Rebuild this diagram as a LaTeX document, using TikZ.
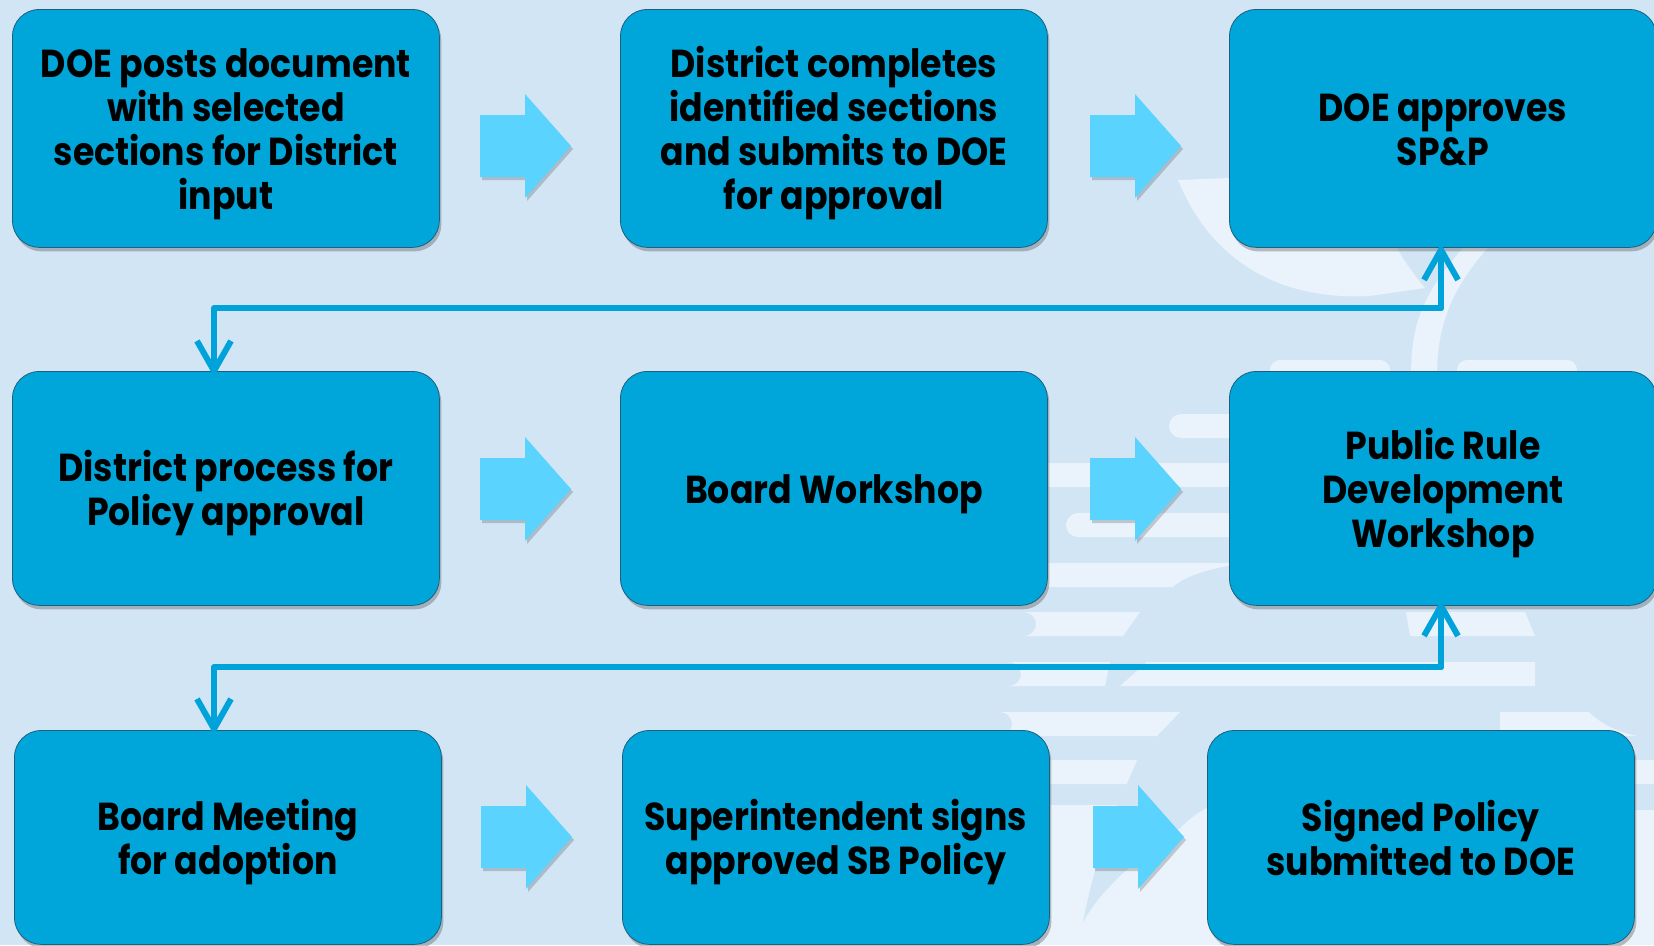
\documentclass[tikz,border=0pt]{standalone}
\usepackage{fontspec}
\newfontfamily\boxfont{Poppins}[FakeStretch=0.89]
\usetikzlibrary{arrows.meta,shadows}
\definecolor{bgc}{HTML}{D2E5F5}
\definecolor{wmc}{HTML}{EAF3FB}
\definecolor{boxc}{HTML}{00A6DA}
\definecolor{boxline}{HTML}{1D5F7E}
\definecolor{linec}{HTML}{00A3D9}
\definecolor{blockc}{HTML}{5AD3FE}
\tikzset{
  stepbox/.style={draw=boxline, line width=0.8pt, fill=boxc, rounded corners=27pt,
    minimum width=427pt, anchor=north west, inner sep=0pt,
    drop shadow={shadow xshift=2pt, shadow yshift=-4pt, opacity=0.35, fill=black!70}},
  boxtext/.style={align=center, font=\boxfont\bfseries\fontsize{39}{44}\selectfont, text=black, yshift=-5pt},
  link/.style={draw=linec, line width=6pt, line cap=round, line join=round,
    -{Straight Barb[length=30pt,width=34pt,line width=6pt]}},
  wm/.style={fill=wmc},
  blockarrow/.style={fill=blockc, drop shadow={shadow xshift=2pt, shadow yshift=-3pt, opacity=0.18, fill=black}}
}
\newcommand{\blockarr}[2]{%
  \path[blockarrow] (#1,#2-31) -- (#1+45,#2-31) -- (#1+45,#2-52) -- (#1+91,#2) -- (#1+45,#2+52) -- (#1+45,#2+31) -- (#1,#2+31) -- cycle;}
\newcommand{\ls}{\rule[-10pt]{0pt}{40pt}}
\begin{document}
\begin{tikzpicture}[x=1pt,y=-1pt]
\useasboundingbox (0,0) rectangle (1654,945);
\clip (0,0) rectangle (1654,945);
\fill[bgc] (0,0) rectangle (1654,945);
% watermark: crescent and ring
\fill[wm] (1178,180) .. controls (1215,270) and (1290,300) .. (1369,296) -- (1425,288) .. controls (1410,270) and (1400,255) .. (1393,240) -- (1229,178) -- cycle;
\fill[wm] (1470,240) .. controls (1425,290) and (1411,320) .. (1411,375) -- (1437,375) .. controls (1437,325) and (1452,285) .. (1495,240) -- cycle;
\fill[wm, rounded corners=10pt] (1270,360) rectangle (1390,385);
\fill[wm, rounded corners=10pt] (1457,360) rectangle (1577,385);
% watermark: bars
\fill[wm, rounded corners=12pt] (1169,414) rectangle (1260,438);
\fill[wm] (1040,463) rectangle (1240,487);
\fill[wm, rounded corners=12pt] (1066,513) rectangle (1260,537);
\fill[wm] (1040,563) -- (1235,563) -- (1235,565) .. controls (1205,569) and (1182,578) .. (1173,587) -- (1040,587) -- cycle;
\fill[wm] (1024,612) -- (1140,612) -- (1123,636) -- (1024,636) arc[start angle=90, end angle=270, radius=-12pt] -- cycle;
\fill[wm] (1406,612) -- (1525,612) -- (1535,636) -- (1410,636) -- cycle;
\fill[wm] (1009,662) -- (1110,662) -- (1105,686) -- (1009,686) arc[start angle=90, end angle=270, radius=-12pt] -- cycle;
\fill[wm] (1147,662) -- (1535,662) -- (1535,686) -- (1120,686) -- cycle;
\fill[wm] (1000,712) -- (1180,712) -- (1157,736) -- (1000,736) arc[start angle=90, end angle=270, radius=-12pt] -- cycle;
\fill[wm] (1500,712) rectangle (1654,736);
\fill[bgc] (1652,645) circle[radius=92pt];
\fill[wm] (1040,760) -- (1137,760) -- (1127,784) -- (1040,784) -- cycle;
\fill[wm] (1600,760) rectangle (1654,784);
\fill[wm] (1040,805) rectangle (1220,945);
\fill[wm] (1600,810) rectangle (1654,945);
\fill[bgc] (1083,922) .. controls (1095,860) and (1115,800) .. (1150,740) -- (1170,730) -- (1210,730) -- (1210,806) .. controls (1198,812) and (1188,820) .. (1180,828) .. controls (1140,855) and (1100,890) .. (1083,922) -- cycle;
% boxes
\node[stepbox, minimum height=238pt] (b1) at (12,9) {};
\node[stepbox, minimum height=238pt] (b2) at (620,9) {};
\node[stepbox, minimum height=238pt] (b3) at (1229,9) {};
\node[stepbox, minimum height=234pt] (b4) at (12,371) {};
\node[stepbox, minimum height=234pt] (b5) at (620,371) {};
\node[stepbox, minimum height=234pt] (b6) at (1229,371) {};
\node[stepbox, minimum height=214pt] (b7) at (14,730) {};
\node[stepbox, minimum height=214pt] (b8) at (622,730) {};
\node[stepbox, minimum height=214pt] (b9) at (1207,730) {};
% texts
\node[boxtext] (t1) at (b1.center) {\ls DOE posts document\\with selected\\sections for District\\input\ls};
\node[boxtext] (t2) at (b2.center) {\ls District completes\\identified sections\\and submits to DOE\\for approval\ls};
\node[boxtext] (t3) at (b3.center) {\ls DOE approves\\SP\&P\ls};
\node[boxtext] (t4) at (b4.center) {\ls District process for\\Policy approval\ls};
\node[boxtext] (t5) at (b5.center) {\ls Board Workshop\ls};
\node[boxtext] (t6) at (b6.center) {\ls Public Rule\\Development\\Workshop\ls};
\node[boxtext] (t7) at (b7.center) {\ls Board Meeting\\for adoption\ls};
\node[boxtext] (t8) at (b8.center) {\ls Superintendent signs\\approved SB Policy\ls};
\node[boxtext] (t9) at (b9.center) {\ls Signed Policy\\submitted to DOE\ls};
% block arrows
\blockarr{480}{146}
\blockarr{1090}{146}
\blockarr{480}{489}
\blockarr{1090}{489}
\blockarr{481}{837}
\blockarr{1093}{837}
% connectors
\coordinate (c1) at (1441,308);
\coordinate (c2) at (214,308);
\coordinate (c3) at (1441,667);
\coordinate (c4) at (214,667);
\draw[link] (c1) -- (c2) -- ([yshift=-6pt]b4.north -| c2);
\draw[link] (c1) -- ([yshift=4pt]b3.south -| c1);
\draw[link] (c3) -- (c4) -- ([yshift=-5pt]b7.north -| c4);
\draw[link] (c3) -- ([yshift=6pt]b6.south -| c3);
\end{tikzpicture}
\end{document}
